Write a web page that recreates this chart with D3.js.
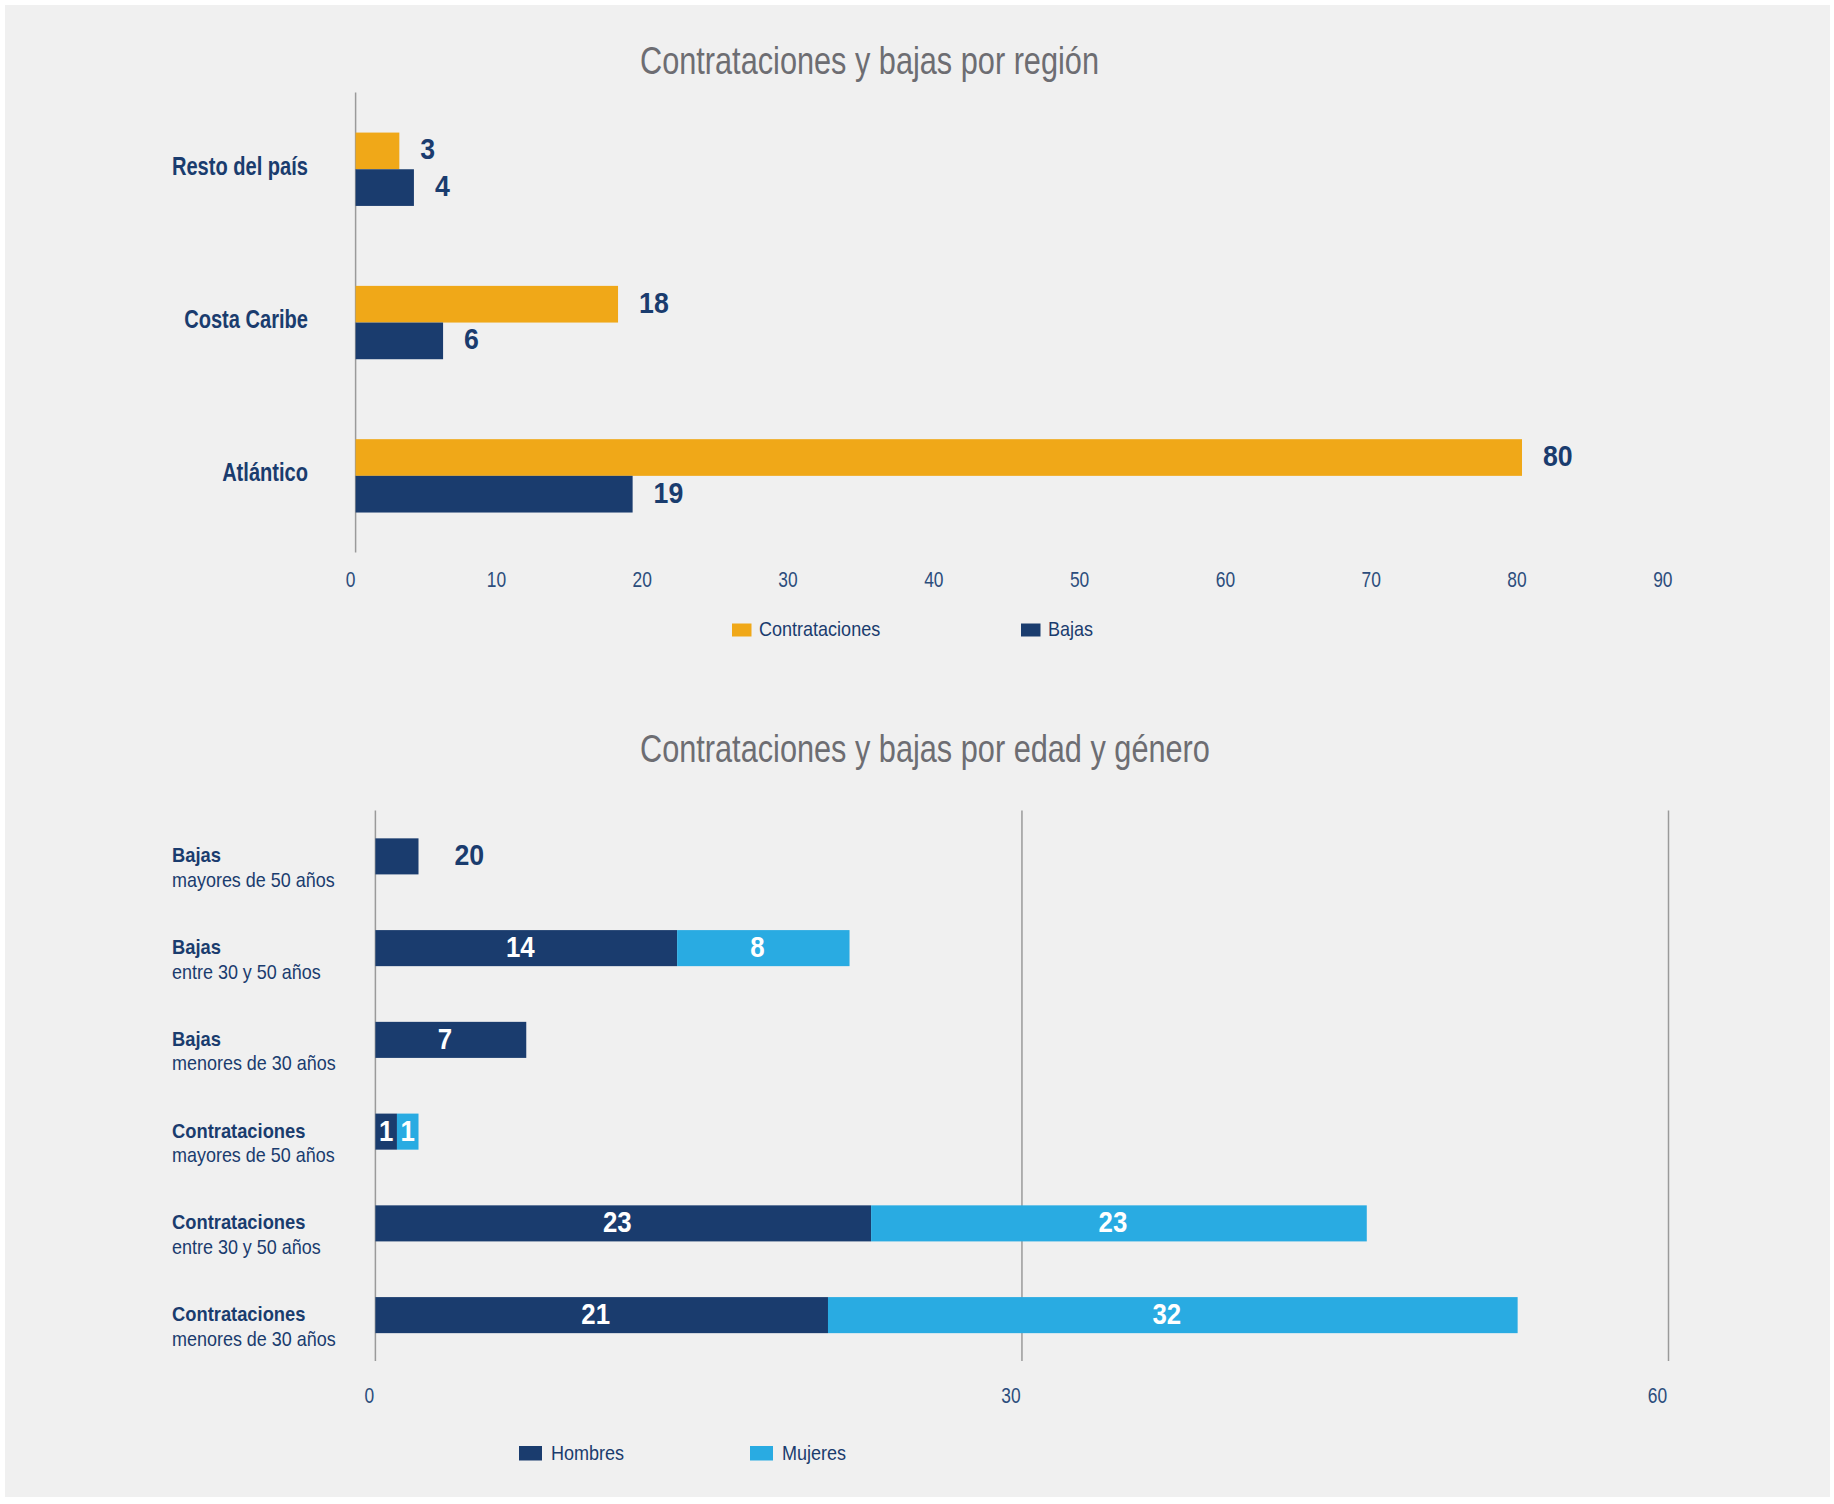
<!DOCTYPE html>
<html>
<head>
<meta charset="utf-8">
<script src="https://cdn.jsdelivr.net/npm/d3@7"></script>
<style>
  html, body { margin: 0; padding: 0; background: #ffffff; }
  svg { display: block; }
  text { font-family: "Liberation Sans", Arial, sans-serif; }
</style>
</head>
<body>
<svg id="chart" width="1834" height="1504"></svg>
<script>
// Chart 1: contrataciones y bajas por región
const regions = ["Resto del país", "Costa Caribe", "Atlántico"]
const regionSeries = ["Contrataciones", "Bajas"]
const contrataciones = [3, 18, 80]
const bajas = [4, 6, 19]
const regionTicks = [0, 10, 20, 30, 40, 50, 60, 70, 80, 90]

// Chart 2: contrataciones y bajas por edad y género
const groupTitles = ["Bajas", "Bajas", "Bajas", "Contrataciones", "Contrataciones", "Contrataciones"]
const groupSubtitles = ["mayores de 50 años", "entre 30 y 50 años", "menores de 30 años",
                        "mayores de 50 años", "entre 30 y 50 años", "menores de 30 años"]
const genderSeries = ["Hombres", "Mujeres"]
const hombres = [2, 14, 7, 1, 23, 21]
const mujeres = [0, 8, 0, 1, 23, 32]
// the source prints "20" next to the first (2-unit) bar
const outsideLabels = ["20", null, null, null, null, null]
const genderTicks = [0, 30, 60]

const navy = "#1a3c6e"
const orange = "#f0a818"
const lightBlue = "#29abe2"
const titleGrey = "#6d6d72"

const svg = d3.select("#chart")

// no condensed face is installed, so squeeze the glyphs of a normal one
function condense(selection, k) {
  selection.each(function() {
    let w = this.getComputedTextLength()
    d3.select(this)
      .attr("textLength", w * k)
      .attr("lengthAdjust", "spacingAndGlyphs")
  })
}

svg.append("rect")
  .attr("x", 5).attr("y", 5)
  .attr("width", 1825).attr("height", 1492)
  .attr("fill", "#f0f0f0")

function title(text, y) {
  svg.append("text")
    .attr("x", 640).attr("y", y)
    .attr("fill", titleGrey)
    .style("font-size", "39px")
    .text(text)
    .call(condense, 0.787)
}

/* ---------- chart 1 ---------- */
title("Contrataciones y bajas por región", 74)

const x1 = d3.scaleLinear().domain([0, 90]).range([355.6, 1667.8])
const y1 = d3.scaleBand().domain(regions).range([92.6, 552.5])
const ySub = d3.scaleBand().domain(regionSeries)
  .range([0, y1.bandwidth()]).paddingOuter(1.09)
const colour1 = d3.scaleOrdinal().domain(regionSeries).range([orange, navy])

const rows1 = regions.map((r, i) => ({
  region: r,
  values: [
    { key: "Contrataciones", value: contrataciones[i] },
    { key: "Bajas", value: bajas[i] }
  ]
}))

const g1 = svg.append("g")

// axis line
g1.append("line")
  .attr("x1", x1(0)).attr("x2", x1(0))
  .attr("y1", y1.range()[0]).attr("y2", y1.range()[1])
  .attr("stroke", "#9a9a9a").attr("stroke-width", 1.5)

const grp1 = g1.selectAll("g.region")
  .data(rows1)
  .join("g")
  .attr("class", "region")
  .attr("transform", d => `translate(0, ${y1(d.region)})`)

grp1.selectAll("rect")
  .data(d => d.values)
  .join("rect")
  .attr("x", x1(0))
  .attr("y", d => ySub(d.key))
  .attr("width", d => x1(d.value) - x1(0))
  .attr("height", ySub.bandwidth())
  .attr("fill", d => colour1(d.key))

grp1.selectAll("text.value")
  .data(d => d.values)
  .join("text")
  .attr("class", "value")
  .attr("x", d => x1(d.value) + 21)
  .attr("y", d => ySub(d.key) + ySub.bandwidth() / 2)
  .attr("dy", "0.28em")
  .attr("fill", navy)
  .style("font-size", "30px")
  .style("font-weight", "bold")
  .text(d => d.value)
  .call(condense, 0.89)

grp1.append("text")
  .attr("x", 308)
  .attr("y", y1.bandwidth() / 2 - 3)
  .attr("dy", "0.33em")
  .attr("text-anchor", "end")
  .attr("fill", navy)
  .style("font-size", "26px")
  .style("font-weight", "bold")
  .text(d => d.region)
  .call(condense, 0.772)

g1.selectAll("text.tick")
  .data(regionTicks)
  .join("text")
  .attr("class", "tick")
  .attr("x", d => x1(d) - 5)
  .attr("y", 587)
  .attr("text-anchor", "middle")
  .attr("fill", "#2c4d7c")
  .style("font-size", "22px")
  .text(d => d)
  .call(condense, 0.79)

const legend1 = g1.selectAll("g.legend")
  .data(regionSeries)
  .join("g")
  .attr("class", "legend")
  .attr("transform", (d, i) => `translate(${[732, 1021][i]}, 623.5)`)
legend1.append("rect")
  .attr("width", 19.5).attr("height", 13)
  .attr("fill", d => colour1(d))
legend1.append("text")
  .attr("x", 27).attr("y", 5).attr("dy", "0.36em")
  .attr("fill", navy)
  .style("font-size", "21px")
  .text(d => d)
  .call(condense, 0.858)

/* ---------- chart 2 ---------- */
title("Contrataciones y bajas por edad y género", 762)

const x2 = d3.scaleLinear().domain([0, 60]).range([375.4, 1668.5])
const rowIds = d3.range(groupTitles.length)
const y2 = d3.scaleBand().domain(rowIds).range([810.5, 1361])
  .paddingInner(0.607).paddingOuter(0.3035)
const colour2 = d3.scaleOrdinal().domain(genderSeries).range([navy, lightBlue])

const g2 = svg.append("g")

// vertical grid lines (0 = axis)
g2.selectAll("line.grid")
  .data(genderTicks)
  .join("line")
  .attr("class", "grid")
  .attr("x1", d => x2(d)).attr("x2", d => x2(d))
  .attr("y1", 810.5).attr("y2", 1361)
  .attr("stroke", "#9a9a9a").attr("stroke-width", 1.5)

const stacked = d3.stack().keys(genderSeries)(
  rowIds.map(i => ({ id: i, Hombres: hombres[i], Mujeres: mujeres[i] }))
)

const layers = g2.selectAll("g.layer")
  .data(stacked)
  .join("g")
  .attr("class", "layer")
  .attr("fill", d => colour2(d.key))

layers.selectAll("rect")
  .data(d => d.filter(s => s[1] > s[0]))
  .join("rect")
  .attr("x", d => x2(d[0]))
  .attr("y", d => y2(d.data.id))
  .attr("width", d => x2(d[1]) - x2(d[0]))
  .attr("height", y2.bandwidth())

// values inside segments (except rows labelled outside)
let segWidth = d => x2(d[1]) - x2(d[0])
layers.selectAll("text")
  .data(d => d.filter(s => s[1] > s[0] && !outsideLabels[s.data.id]))
  .join("text")
  .attr("x", d => (x2(d[0]) + x2(d[1])) / 2 - (segWidth(d) > 60 ? 6 : 0))
  .attr("y", d => y2(d.data.id) + y2.bandwidth() / 2)
  .attr("dy", "0.3em")
  .attr("text-anchor", "middle")
  .attr("fill", "#ffffff")
  .style("font-size", "30px")
  .style("font-weight", "bold")
  .text(d => d[1] - d[0])
  .call(condense, 0.86)

g2.selectAll("text.outside")
  .data(rowIds.filter(i => outsideLabels[i]))
  .join("text")
  .attr("class", "outside")
  .attr("x", i => x2(hombres[i] + mujeres[i]) + 36)
  .attr("y", i => y2(i) + y2.bandwidth() / 2)
  .attr("dy", "0.3em")
  .attr("fill", navy)
  .style("font-size", "30px")
  .style("font-weight", "bold")
  .text(i => outsideLabels[i])
  .call(condense, 0.89)

const cat2 = g2.selectAll("g.cat")
  .data(rowIds)
  .join("g")
  .attr("class", "cat")
  .attr("transform", i => `translate(172, ${y2(i) + y2.bandwidth() / 2})`)
cat2.append("text")
  .attr("y", 6)
  .attr("fill", navy)
  .style("font-size", "21px")
  .style("font-weight", "bold")
  .text(i => groupTitles[i])
  .call(condense, 0.873)
cat2.append("text")
  .attr("y", 30.5)
  .attr("fill", navy)
  .style("font-size", "21px")
  .text(i => groupSubtitles[i])
  .call(condense, 0.855)

g2.selectAll("text.tick")
  .data(genderTicks)
  .join("text")
  .attr("class", "tick")
  .attr("x", d => x2(d) - (d === 0 ? 6 : 11))
  .attr("y", 1403)
  .attr("text-anchor", "middle")
  .attr("fill", "#2c4d7c")
  .style("font-size", "22px")
  .text(d => d)
  .call(condense, 0.79)

const legend2 = g2.selectAll("g.legend")
  .data(genderSeries)
  .join("g")
  .attr("class", "legend")
  .attr("transform", (d, i) => `translate(${[519, 750][i]}, 1446)`)
legend2.append("rect")
  .attr("width", 23).attr("height", 14.5)
  .attr("fill", d => colour2(d))
legend2.append("text")
  .attr("x", 32).attr("y", 6).attr("dy", "0.36em")
  .attr("fill", navy)
  .style("font-size", "21px")
  .text(d => d)
  .call(condense, 0.858)
</script>
</body>
</html>
